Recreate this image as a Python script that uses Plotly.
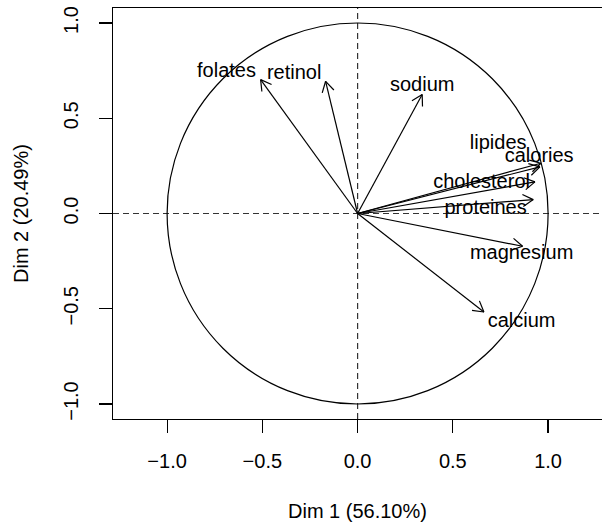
import math
import plotly.graph_objects as go

# ---- data ----
variables = ["folates", "retinol", "sodium", "lipides", "calories",
             "cholesterol", "proteines", "magnesium", "calcium"]
dim1 = [-0.509, -0.168, 0.339, 0.962, 0.957, 0.931, 0.922, 0.866, 0.663]
dim2 = [0.703, 0.694, 0.625, 0.264, 0.245, 0.166, 0.073, -0.172, -0.517]
# label anchor positions (as placed in the original plot)
label_x = [-0.688, -0.333, 0.339, 0.738, 0.953, 0.651, 0.672, 0.861, 0.861]
label_y = [0.743, 0.731, 0.668, 0.364, 0.294, 0.161, 0.026, -0.215, -0.569]
tick_vals = [-1.0, -0.5, 0.0, 0.5, 1.0]
tick_text = ["\u22121.0", "\u22120.5", "0.0", "0.5", "1.0"]
x_title = "Dim 1 (56.10%)"
y_title = "Dim 2 (20.49%)"

# ---- geometry / style ----
W, H = 602, 527
ML, MR, MT, MB = 113, 0, 8, 108
PX_PER_UNIT = 190.5
pw, ph = W - ML - MR, H - MT - MB
x0 = -1.284
xr = [x0, x0 + pw / PX_PER_UNIT]
yr = [-ph / PX_PER_UNIT / 2, ph / PX_PER_UNIT / 2]
FONT = "Liberation Sans, Arial, Helvetica, sans-serif"
FS = 20
LW = 1.2
HEAD = 12 / PX_PER_UNIT

fig = go.Figure()

# arrow shafts and open arrow heads
sx, sy = [], []
for x, y in zip(dim1, dim2):
    sx += [0, x, None]
    sy += [0, y, None]
    th = math.atan2(y, x)
    for d in (math.radians(30), -math.radians(30)):
        sx += [x - HEAD * math.cos(th + d), x, None]
        sy += [y - HEAD * math.sin(th + d), y, None]
fig.add_trace(go.Scatter(x=sx, y=sy, mode="lines",
                         line=dict(color="black", width=LW),
                         hoverinfo="skip", showlegend=False))

# labels
fig.add_trace(go.Scatter(x=label_x, y=label_y, mode="text", text=variables,
                         textposition="middle center",
                         textfont=dict(family=FONT, size=FS, color="black"),
                         hoverinfo="skip", showlegend=False))

# unit circle
fig.add_shape(type="circle", xref="x", yref="y", x0=-1, y0=-1, x1=1, y1=1,
              line=dict(color="black", width=LW), layer="below")
# dashed axes through origin
fig.add_shape(type="line", xref="x", yref="paper", x0=0, x1=0, y0=0, y1=1,
              line=dict(color="#333333", width=LW, dash="6px,4px"), layer="below")
fig.add_shape(type="line", xref="paper", yref="y", x0=0, x1=1, y0=0, y1=0,
              line=dict(color="#333333", width=LW, dash="6px,4px"), layer="below")

axis_common = dict(showgrid=False, zeroline=False, showline=True,
                   linecolor="black", linewidth=LW,
                   ticks="outside", ticklen=13, tickwidth=LW, tickcolor="black",
                   tickvals=tick_vals, ticktext=tick_text,
                   tickfont=dict(family=FONT, size=FS, color="black"))

fig.update_layout(
    width=W, height=H,
    margin=dict(l=ML, r=MR, t=MT, b=MB, pad=0),
    paper_bgcolor="white", plot_bgcolor="white",
    xaxis=dict(range=xr, mirror=True, ticklabelstandoff=11, automargin=False,
               **axis_common),
    yaxis=dict(range=yr, mirror=False, tickangle=-90, ticklabelstandoff=13,
               automargin=False, **axis_common),
    showlegend=False,
    hovermode=False,
    annotations=[
        dict(text=x_title, xref="paper", yref="paper",
             x=(357.7 - ML) / pw, y=(H - MB - 511) / ph,
             xanchor="center", yanchor="middle", showarrow=False,
             font=dict(family=FONT, size=FS, color="black")),
        dict(text=y_title, xref="paper", yref="paper",
             x=(21 - ML) / pw, y=(H - MB - 214) / ph, textangle=-90,
             xanchor="center", yanchor="middle", showarrow=False,
             font=dict(family=FONT, size=FS, color="black")),
    ],
)

fig.write_html(
    "out.html",
    config={"displayModeBar": False, "staticPlot": True},
    post_script="document.body.style.margin='0';document.body.style.overflow='hidden';",
)
